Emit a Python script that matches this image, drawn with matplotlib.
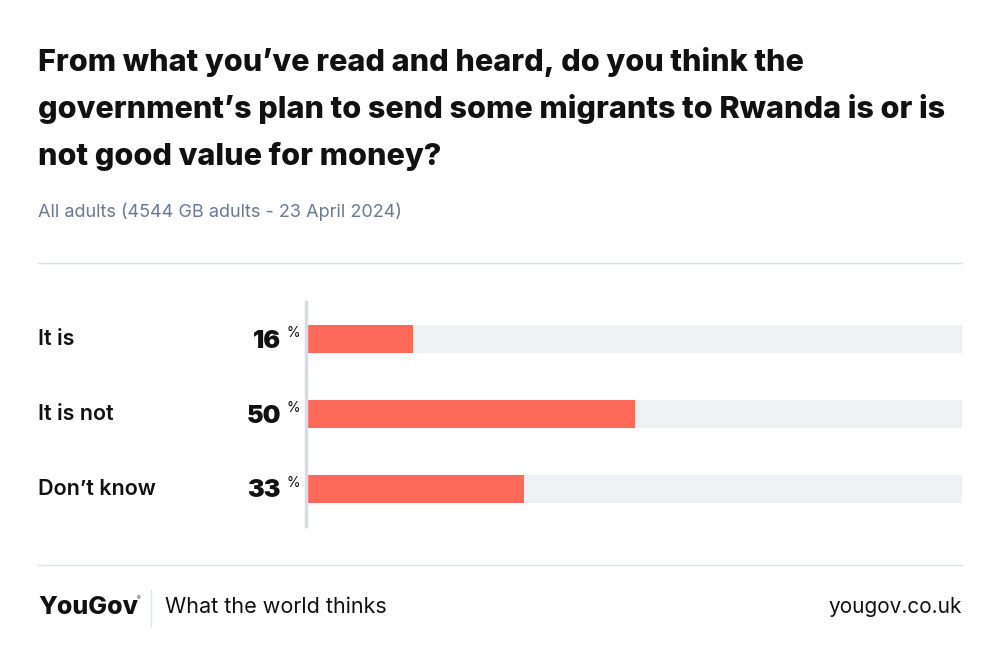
import matplotlib
matplotlib.use("Agg")
import matplotlib.pyplot as plt
from matplotlib.transforms import blended_transform_factory
from matplotlib.lines import Line2D

plt.rcParams['font.family'] = ['Inter', 'DejaVu Sans']

categories = ['It is', 'It is not', 'Don\u2019t know']
values = [16, 50, 33]

title_lines = ['From what you\u2019ve read and heard, do you think the',
               'government\u2019s plan to send some migrants to Rwanda is or is',
               'not good value for money?']
subtitle = 'All adults (4544 GB adults - 23 April 2024)'

bar_color = '#ff6957'
track_color = '#eef0f4'
rule_color = '#dfe2e6'

fig = plt.figure(figsize=(10, 6.64), dpi=100)
W, H = 1000, 664

def fx(px):
    return px / W

def fy(py):
    return 1 - py / H

ax = fig.add_axes([fx(308), fy(526), fx(962) - fx(308), fy(302) - fy(526)])
y = list(range(len(categories)))
ax.barh(y, [100] * len(values), height=0.373, color=track_color, left=0)
ax.barh(y, values, height=0.373, color=bar_color, left=0)
ax.set_xlim(0, 100)
ax.set_ylim(2.5, -0.5)
ax.set_xticks([])
ax.set_yticks([])
for s in ['top', 'right', 'bottom', 'left']:
    ax.spines[s].set_visible(False)
fig.add_artist(Line2D([fx(306), fx(306)], [fy(302), fy(526)], color='#d9dde3', lw=2.5))

tr = blended_transform_factory(fig.transFigure, ax.transData)
for i, (cat, v) in enumerate(zip(categories, values)):
    ax.text(fx(38), i, cat, transform=tr, ha='left', va='center', fontsize=15.5,
            fontweight='semibold', color='#111111')
    ax.text(fx(281), i + 0.03, str(v), transform=tr, ha='right', va='center', fontsize=18,
            fontweight='black', color='#111111')
    ax.text(fx(287), i - 0.08, '%', transform=tr, ha='left', va='center', fontsize=10,
            color='#111111')

for k, line in enumerate(title_lines):
    fig.text(fx(38), fy(62 + 47 * k), line, ha='left', va='center', fontsize=22,
             fontweight='heavy', color='#111111')
fig.text(fx(38), fy(212), subtitle, ha='left', va='center', fontsize=13, color='#6b7a90')

fig.add_artist(Line2D([fx(38), fx(962)], [fy(263), fy(263)], color=rule_color, lw=1))
fig.add_artist(Line2D([fx(38), fx(962)], [fy(565), fy(565)], color=rule_color, lw=1))

fig.text(fx(38), fy(607), 'YouGov', ha='left', va='center', fontsize=18, fontweight='heavy',
         color='#111111')
fig.text(fx(137), fy(599), '\u00ae', ha='left', va='center', fontsize=4, color='#111111')
fig.add_artist(Line2D([fx(151), fx(151)], [fy(590), fy(626)], color=rule_color, lw=1))
fig.text(fx(165), fy(607), 'What the world thinks', ha='left', va='center', fontsize=15.5,
         color='#111111')
fig.text(fx(962), fy(607), 'yougov.co.uk', ha='right', va='center', fontsize=15,
         color='#111111')

fig.savefig('out.png', dpi=100, facecolor='white')
